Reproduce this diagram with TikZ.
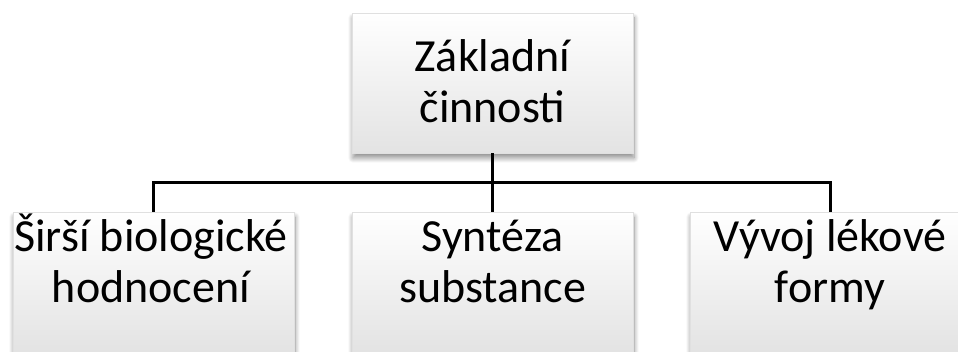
\documentclass[tikz,border=0pt]{standalone}
\usepackage{fontspec}
\setmainfont{Carlito}
\usetikzlibrary{shadows.blur}
\begin{document}
\begin{tikzpicture}[x=1pt,y=1pt,
  box/.style={rectangle, minimum width=281pt, minimum height=140pt,
    inner sep=0pt, top color=white, bottom color=black!11,
    draw=black!12, line width=0.6pt,
    blur shadow={shadow xshift=1pt, shadow yshift=-5pt, shadow blur steps=10,
      shadow blur radius=5pt, shadow opacity=45}},
  % anchored at the baseline of the last line
  caption/.style={anchor=base, inner sep=0pt, align=center, text=black,
    font=\fontsize{46}{51}\selectfont},
  link/.style={line width=3pt, black}]
  \useasboundingbox (0,0) rectangle (958,-352);

  % boxes
  \node[box] (top) at (492.5,-83) {};
  \node[box] (left) at (153.5,-282) {};
  \node[box] (mid) at (492.5,-282) {};
  \node[box] (right) at (830.5,-282) {};

  % texts
  \node[caption] (topText) at (492.5,-123) {Základní\\činnosti};
  \node[caption] (leftText) at (151,-303) {Širší biologické\\hodnocení};
  \node[caption] (midText) at (492.5,-303) {Syntéza\\substance};
  \node[caption] (rightText) at (830,-303) {Vývoj lékové\\formy};

  % connectors
  \draw[link] (top.south) -- (mid.north);
  \draw[link] (left.north) -- ++(0,29) coordinate (busL) -| (right.north);
\end{tikzpicture}
\end{document}
